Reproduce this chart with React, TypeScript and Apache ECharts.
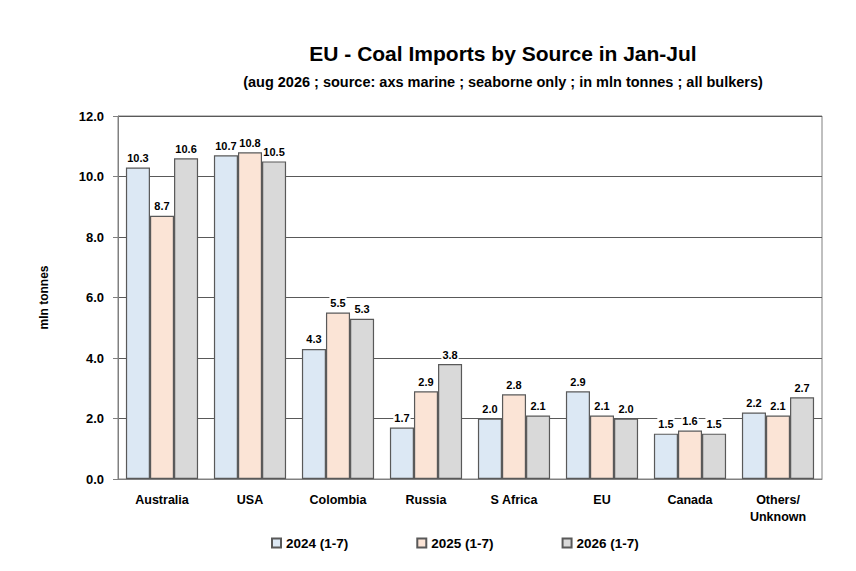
import React, { useEffect, useRef } from "react";
import * as echarts from "echarts";

const categories = ["Australia", "USA", "Colombia", "Russia", "S Africa", "EU", "Canada", "Others/\nUnknown"];
const s2024 = [10.3, 10.7, 4.3, 1.7, 2.0, 2.9, 1.5, 2.2];
const s2025 = [8.7, 10.8, 5.5, 2.9, 2.8, 2.1, 1.6, 2.1];
const s2026 = [10.6, 10.5, 5.3, 3.8, 2.1, 2.0, 1.5, 2.7];
const seriesNames = ["2024 (1-7)", "2025 (1-7)", "2026 (1-7)"];
const colors = ["#dce8f4", "#fbe4d6", "#d9d9d9"];

export default function App() {
  const ref = useRef<HTMLDivElement>(null);
  useEffect(() => {
    const chart = echarts.init(ref.current!, null, { renderer: "svg" });
    const font = "Liberation Sans, Arial, sans-serif";
    const mk = (name: string, data: number[], i: number) => ({
      name, type: "bar", data, barGap: "0%", barCategoryGap: "18%",
      itemStyle: { color: colors[i], borderColor: "#595959", borderWidth: 1.2 },
      label: {
        show: true, position: "top", formatter: (p: any) => p.value.toFixed(1),
        fontFamily: font, fontWeight: "bold", fontSize: 11, color: "#000",
        backgroundColor: "#fff", padding: [2, 1, 1, 1], distance: 3,
      },
    });
    chart.setOption({
      animation: false,
      textStyle: { fontFamily: font },
      title: {
        text: "EU - Coal Imports by Source in Jan-Jul",
        subtext: "(aug 2026 ; source: axs marine ; seaborne only ; in mln tonnes ; all bulkers)",
        left: 490, textAlign: "center", top: 30, itemGap: 10,
        textStyle: { fontFamily: font, fontSize: 21, fontWeight: "bold", color: "#000" },
        subtextStyle: { fontFamily: font, fontSize: 14.5, fontWeight: "bold", color: "#000" },
      },
      legend: {
        bottom: 8, left: 258, itemGap: 68, itemWidth: 9, itemHeight: 9, icon: "rect",
        textStyle: { fontFamily: font, fontWeight: "bold", fontSize: 13.5, color: "#000" },
      },
      grid: { left: 110, right: 26, top: 108, bottom: 84, containLabel: false, show: true, borderColor: "#808080", borderWidth: 1 },
      xAxis: {
        type: "category", data: categories,
        axisLine: { lineStyle: { color: "#808080" } }, axisTick: { show: false },
        axisLabel: { fontFamily: font, fontWeight: "bold", fontSize: 12.5, color: "#000", margin: 12, lineHeight: 17 },
      },
      yAxis: {
        type: "value", min: 0, max: 12, interval: 2,
        name: "mln tonnes", nameLocation: "middle", nameGap: 68,
        nameTextStyle: { fontFamily: font, fontWeight: "bold", fontSize: 12, color: "#000" },
        axisLabel: { formatter: (v: number) => v.toFixed(1), fontFamily: font, fontWeight: "bold", fontSize: 13, color: "#000", margin: 14 },
        axisLine: { show: true, lineStyle: { color: "#808080" } },
        axisTick: { show: true, length: 5, lineStyle: { color: "#808080" } },
        splitLine: { lineStyle: { color: "#595959", width: 1 } },
      },
      series: [mk(seriesNames[0], s2024, 0), mk(seriesNames[1], s2025, 1), mk(seriesNames[2], s2026, 2)],
    });
    return () => chart.dispose();
  }, []);
  return <div ref={ref} style={{ width: 840, height: 555 }} />;
}
